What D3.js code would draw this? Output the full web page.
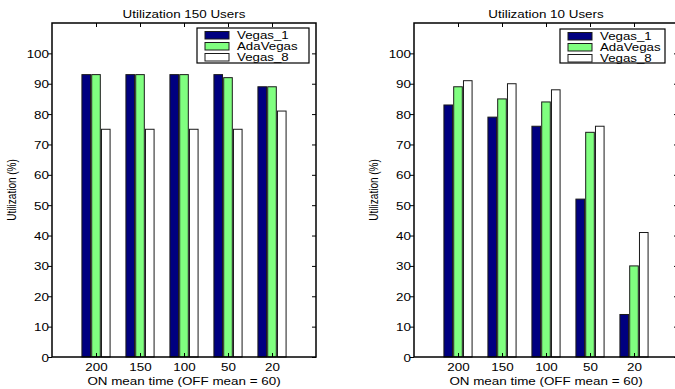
<!DOCTYPE html>
<html><head><meta charset="utf-8">
<script src="https://cdn.jsdelivr.net/npm/d3@7"></script>
<style>body{margin:0;background:#fff}svg{display:block}</style>
</head><body>
<script>
// ---- data ----
const categories = ["200","150","100","50","20"];
const seriesNames = ["Vegas_1","AdaVegas","Vegas_8"];
const seriesColors = ["#000080","#80ff80","#ffffff"];
const users150_vegas1   = [93,93,93,93,89];
const users150_adavegas = [93,93,93,92,89];
const users150_vegas8   = [75,75,75,75,81];
const users10_vegas1    = [83,79,76,52,14];
const users10_adavegas  = [89,85,84,74,30];
const users10_vegas8    = [91,90,88,76,41];
const yTicks = [0,10,20,30,40,50,60,70,80,90,100];
const titles = ["Utilization 150 Users","Utilization 10 Users"];
const xLabel = "ON mean time (OFF mean = 60)";
const yLabel = "Utilization (%)";

// ---- layout ----
const W = 675, H = 389;
const FONT = "'Liberation Sans', Arial, Helvetica, sans-serif";
const SX = 1.22; // horizontal stretch of text in original
const panels = [
  {title: titles[0], series: [users150_vegas1, users150_adavegas, users150_vegas8],
   x0: 52, x1: 316, ylabX: 12, leg: {x: 197, y: 28, w: 112, h: 35}},
  {title: titles[1], series: [users10_vegas1, users10_adavegas, users10_vegas8],
   x0: 414, x1: 678, ylabX: 374, leg: {x: 560, y: 29, w: 105, h: 34}}
];
const yTop = 23, yBot = 357;

const svg = d3.select("body").append("svg").attr("width", W).attr("height", H)
  .style("font-family", FONT);

panels.forEach(p => {
  const g = svg.append("g");
  const x = d3.scaleLinear().domain([0, categories.length + 1]).range([p.x0, p.x1]);
  const y = d3.scaleLinear().domain([0, 110]).range([yBot, yTop]);
  const step = x(1) - x(0);
  const groupW = step * 0.64;
  const inner = d3.scaleBand().domain(d3.range(seriesNames.length))
    .range([-groupW / 2, groupW / 2]).paddingInner(0.12);

  // bars
  p.series.forEach((vals, si) => {
    g.append("g").selectAll("rect").data(vals).join("rect")
      .attr("x", (d, i) => x(i + 1) + inner(si))
      .attr("y", d => y(d))
      .attr("width", inner.bandwidth())
      .attr("height", d => y(0) - y(d))
      .attr("fill", seriesColors[si])
      .attr("stroke", "#1a1a1a").attr("stroke-width", 1);
  });

  // y axis left (outward ticks with labels)
  const ya = g.append("g").attr("transform", `translate(${p.x0},0)`)
    .call(d3.axisLeft(y).tickValues(yTicks).tickSize(4).tickSizeOuter(0).tickPadding(0));
  ya.select(".domain").remove();
  ya.selectAll("line").attr("stroke", "#000");
  ya.selectAll("text").attr("font-size", 11).attr("font-family", FONT).attr("fill", "#000")
    .attr("x", null).attr("dy", null)
    .attr("transform", `translate(-3,4) scale(${SX},1)`);

  // right ticks inward
  const yr = g.append("g").attr("transform", `translate(${p.x1},0)`)
    .call(d3.axisRight(y).tickValues(yTicks).tickSize(-4).tickSizeOuter(0).tickFormat(""));
  yr.select(".domain").remove();

  // top ticks inward
  const xt = g.append("g").attr("transform", `translate(0,${yTop})`)
    .call(d3.axisTop(x).tickValues(d3.range(1, categories.length + 1)).tickSize(-4).tickSizeOuter(0).tickFormat(""));
  xt.select(".domain").remove();

  // bottom axis with labels
  const xb = g.append("g").attr("transform", `translate(0,${yBot})`)
    .call(d3.axisBottom(x).tickValues(d3.range(1, categories.length + 1))
      .tickFormat(i => categories[i - 1]).tickSize(-4).tickSizeOuter(0));
  xb.select(".domain").remove();
  xb.selectAll("text").attr("font-size", 11).attr("font-family", FONT).attr("fill", "#000")
    .attr("y", null).attr("dy", null)
    .attr("transform", `translate(0,13.5) scale(${SX},1)`);

  // box
  g.append("rect").attr("x", p.x0).attr("y", yTop)
    .attr("width", p.x1 - p.x0).attr("height", yBot - yTop)
    .attr("fill", "none").attr("stroke", "#000").attr("stroke-width", 1.5);

  // title
  g.append("text").attr("text-anchor", "middle").attr("font-size", 11)
    .attr("transform", `translate(${(p.x0 + p.x1) / 2},18) scale(${SX},1)`)
    .text(p.title);

  // x label
  g.append("text").attr("text-anchor", "middle").attr("font-size", 11)
    .attr("transform", `translate(${(p.x0 + p.x1) / 2},385) scale(${SX},1)`)
    .text(xLabel);

  // y label
  g.append("text").attr("text-anchor", "middle").attr("font-size", 10)
    .attr("transform", `translate(${p.ylabX + 3.5},${(yTop + yBot) / 2}) rotate(-90) scale(1,${SX})`)
    .text(yLabel);

  // legend
  const L = p.leg;
  const lg = g.append("g");
  lg.append("rect").attr("x", L.x).attr("y", L.y).attr("width", L.w).attr("height", L.h)
    .attr("fill", "#fff").attr("stroke", "#000").attr("stroke-width", 1.2);
  seriesNames.forEach((name, si) => {
    const cy = L.y + 7 + si * 11;
    lg.append("rect").attr("x", L.x + 8).attr("y", cy - 3.5).attr("width", 24).attr("height", 7.5)
      .attr("fill", seriesColors[si]).attr("stroke", "#1a1a1a").attr("stroke-width", 1);
    lg.append("text").attr("font-size", 10)
      .attr("transform", `translate(${L.x + 40},${cy + 3.6}) scale(1.33,1)`)
      .text(name);
  });
});
</script>
</body></html>
